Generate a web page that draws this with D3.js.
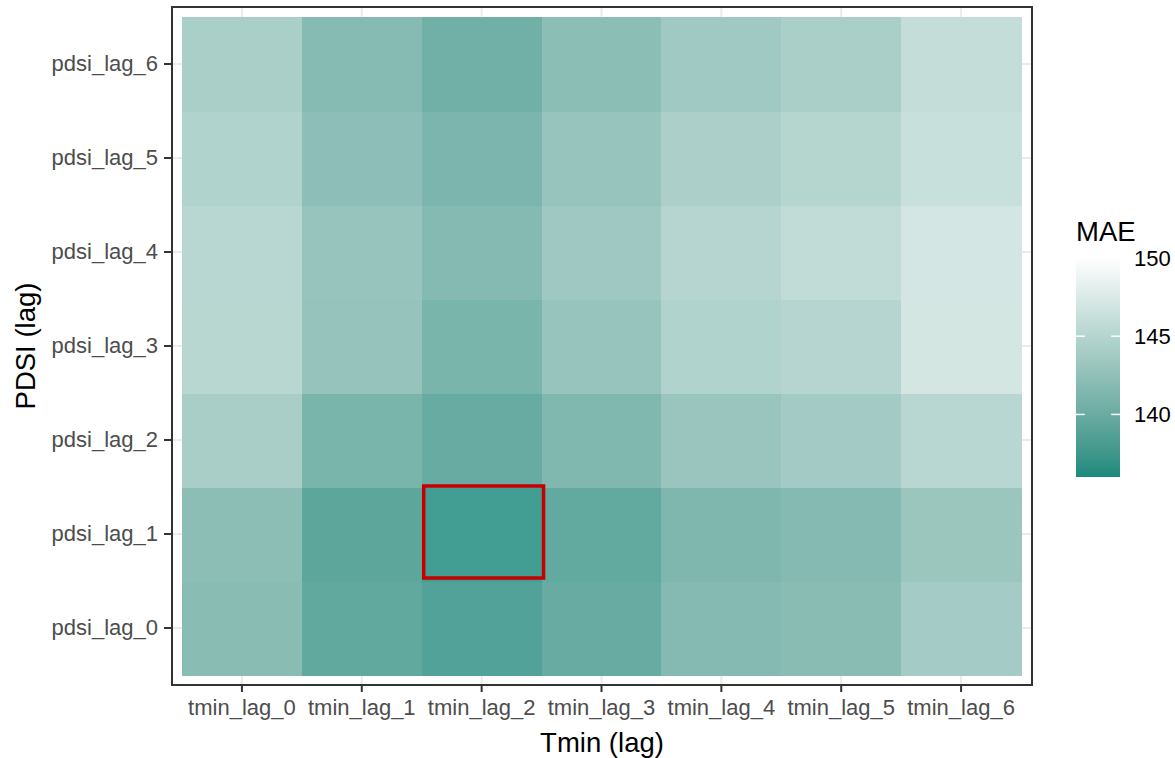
<!DOCTYPE html>
<html lang="en">

<head>
  <meta charset="UTF-8">
  <title>MAE by lag</title>
  <style>
    body {
      margin: 0;
      background: white;
    }

    text {
      font-family: 'Liberation Sans', Arial, sans-serif;
    }

    .axis text {
      fill: #4d4d4d;
      font-size: 22px;
    }

    .axis line {
      stroke: #333333;
      stroke-width: 2;
    }

    .axis-title {
      font-size: 27.5px;
      fill: black;
    }

    .tile {
      shape-rendering: crispEdges;
    }
  </style>
</head>

<body>
  <div id="plot"></div>

  <script src="https://cdn.jsdelivr.net/npm/d3@7"></script>
  <script>
    // categories
    let tminLags = ['tmin_lag_0', 'tmin_lag_1', 'tmin_lag_2', 'tmin_lag_3', 'tmin_lag_4', 'tmin_lag_5', 'tmin_lag_6'];
    let pdsiLags = ['pdsi_lag_0', 'pdsi_lag_1', 'pdsi_lag_2', 'pdsi_lag_3', 'pdsi_lag_4', 'pdsi_lag_5', 'pdsi_lag_6'];

    // MAE, one row per pdsi lag (tmin_lag_0 .. tmin_lag_6)
    let maePdsi0 = [140.7, 137.8, 137.0, 138.2, 140.4, 140.7, 142.8];
    let maePdsi1 = [140.9, 137.5, 136.2, 137.9, 139.9, 140.4, 142.0];
    let maePdsi2 = [143.1, 139.6, 138.2, 140.0, 141.9, 142.7, 144.5];
    let maePdsi3 = [144.4, 141.7, 139.6, 141.8, 143.8, 144.2, 146.5];
    let maePdsi4 = [144.5, 141.8, 140.4, 142.3, 144.2, 145.1, 146.6];
    let maePdsi5 = [143.8, 141.0, 139.7, 141.8, 143.4, 144.1, 145.6];
    let maePdsi6 = [143.2, 140.5, 138.9, 140.8, 142.5, 143.2, 145.3];

    let maeRows = [maePdsi0, maePdsi1, maePdsi2, maePdsi3, maePdsi4, maePdsi5, maePdsi6];

    // colour bar limits and ticks
    let maeLimits = [136, 150];
    let legendTicks = [140, 145, 150];

    // highlighted (best) combination
    let bestTmin = 'tmin_lag_2';
    let bestPdsi = 'pdsi_lag_1';

    let data = [];
    pdsiLags.forEach((p, i) => {
      tminLags.forEach((t, j) => {
        data.push({ tmin: t, pdsi: p, mae: maeRows[i][j] });
      });
    });

    let W = 1175, H = 758;
    let panel = { left: 172, right: 1032, top: 7, bottom: 685 };
    let pad = 10;

    let svg = d3.select('#plot').append('svg')
      .attr('width', W)
      .attr('height', H);

    let xScale = d3.scaleBand()
      .domain(tminLags)
      .range([panel.left + pad, panel.right - pad - 1]);
    let yScale = d3.scaleBand()
      .domain(pdsiLags)
      .range([panel.bottom - pad, panel.top + pad]);

    let colorScale = d3.scaleLinear()
      .domain(maeLimits)
      .range(['#1b8a7e', '#ffffff'])
      .interpolate(d3.interpolateLab);

    // tiles are drawn with alpha 0.85 over the white panel
    let tileFill = v => d3.interpolateRgb(colorScale(v), '#ffffff')(0.15);

    // panel background + grid
    svg.append('rect')
      .attr('x', panel.left)
      .attr('y', panel.top)
      .attr('width', panel.right - panel.left)
      .attr('height', panel.bottom - panel.top)
      .style('fill', 'white');

    let grid = svg.append('g').attr('class', 'grid');
    grid.selectAll('.gx')
      .data(tminLags)
      .enter().append('line')
      .attr('x1', d => xScale(d) + xScale.bandwidth() / 2)
      .attr('x2', d => xScale(d) + xScale.bandwidth() / 2)
      .attr('y1', panel.top)
      .attr('y2', panel.bottom)
      .style('stroke', '#ebebeb')
      .style('stroke-width', 2);
    grid.selectAll('.gy')
      .data(pdsiLags)
      .enter().append('line')
      .attr('y1', d => yScale(d) + yScale.bandwidth() / 2)
      .attr('y2', d => yScale(d) + yScale.bandwidth() / 2)
      .attr('x1', panel.left)
      .attr('x2', panel.right)
      .style('stroke', '#ebebeb')
      .style('stroke-width', 2);

    // tiles
    svg.selectAll('.tile')
      .data(data)
      .enter().append('rect')
      .attr('class', 'tile')
      .attr('x', d => xScale(d.tmin))
      .attr('y', d => yScale(d.pdsi))
      .attr('width', xScale.bandwidth() + 0.5)
      .attr('height', yScale.bandwidth() + 0.5)
      .style('fill', d => tileFill(d.mae));

    // best combination outline
    svg.append('rect')
      .attr('x', xScale(bestTmin) + 2)
      .attr('y', yScale(bestPdsi) - 1)
      .attr('width', xScale.bandwidth())
      .attr('height', yScale.bandwidth() - 2)
      .style('fill', 'none')
      .style('stroke', '#c60000')
      .style('stroke-width', 3.5);

    // panel border
    svg.append('rect')
      .attr('x', panel.left)
      .attr('y', panel.top)
      .attr('width', panel.right - panel.left)
      .attr('height', panel.bottom - panel.top)
      .style('fill', 'none')
      .style('stroke', '#333333')
      .style('stroke-width', 2);

    // axes
    let xAxis = d3.axisBottom(xScale).tickSize(7).tickPadding(7);
    let yAxis = d3.axisLeft(yScale).tickSize(8).tickPadding(6);

    svg.append('g')
      .attr('class', 'x axis')
      .attr('transform', `translate(0, ${panel.bottom})`)
      .call(xAxis)
      .call(g => g.select('.domain').remove());

    svg.append('g')
      .attr('class', 'y axis')
      .attr('transform', `translate(${panel.left}, 0)`)
      .call(yAxis)
      .call(g => g.select('.domain').remove());

    svg.append('text')
      .attr('class', 'axis-title')
      .attr('x', (panel.left + panel.right) / 2)
      .attr('y', 752)
      .style('text-anchor', 'middle')
      .text('Tmin (lag)');

    svg.append('text')
      .attr('class', 'axis-title')
      .attr('transform', `translate(35, ${(panel.top + panel.bottom) / 2}) rotate(-90)`)
      .style('text-anchor', 'middle')
      .text('PDSI (lag)');

    // colour bar legend
    let bar = { x: 1076, y: 258, width: 44, height: 219 };

    let defs = svg.append('defs');
    let gradient = defs.append('linearGradient')
      .attr('id', 'mae-gradient')
      .attr('x1', '0%').attr('x2', '0%')
      .attr('y1', '100%').attr('y2', '0%');
    gradient.selectAll('stop')
      .data(d3.range(0, 1.0001, 0.05))
      .enter().append('stop')
      .attr('offset', d => `${d * 100}%`)
      .attr('stop-color', d => colorScale(maeLimits[0] + d * (maeLimits[1] - maeLimits[0])));

    let legendScale = d3.scaleLinear()
      .domain(maeLimits)
      .range([bar.y + bar.height, bar.y]);

    let legend = svg.append('g').attr('class', 'legend');

    legend.append('text')
      .attr('x', bar.x)
      .attr('y', 241)
      .style('font-size', '27.5px')
      .text('MAE');

    legend.append('rect')
      .attr('x', bar.x)
      .attr('y', bar.y)
      .attr('width', bar.width)
      .attr('height', bar.height)
      .style('fill', 'url(#mae-gradient)');

    let tickLen = bar.width / 5;
    legend.selectAll('.tick-l')
      .data(legendTicks)
      .enter().append('line')
      .attr('x1', bar.x)
      .attr('x2', bar.x + tickLen)
      .attr('y1', d => legendScale(d))
      .attr('y2', d => legendScale(d))
      .style('stroke', 'white')
      .style('stroke-width', 1.5);
    legend.selectAll('.tick-r')
      .data(legendTicks)
      .enter().append('line')
      .attr('x1', bar.x + bar.width - tickLen)
      .attr('x2', bar.x + bar.width)
      .attr('y1', d => legendScale(d))
      .attr('y2', d => legendScale(d))
      .style('stroke', 'white')
      .style('stroke-width', 1.5);

    legend.selectAll('.legend-label')
      .data(legendTicks)
      .enter().append('text')
      .attr('class', 'legend-label')
      .attr('x', bar.x + bar.width + 14)
      .attr('y', d => legendScale(d))
      .attr('dy', '0.35em')
      .style('font-size', '22px')
      .style('fill', 'black')
      .text(d => d);
  </script>
</body>

</html>
